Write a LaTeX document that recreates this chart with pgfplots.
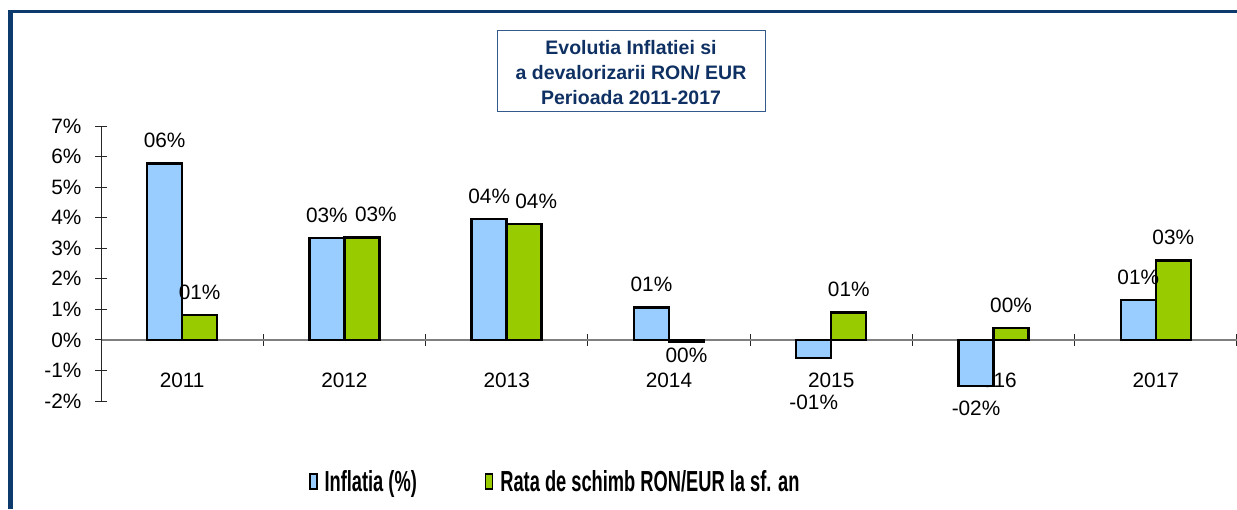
\documentclass[border=0pt]{standalone}
\usepackage{pgfplots}
\pgfplotsset{compat=1.18}
\usepackage{pgfplotstable}
\usepackage{fontspec}
\setmainfont{Liberation Sans}
\usepackage{graphicx}

\definecolor{framecol}{RGB}{12,58,108}
\definecolor{titlecol}{RGB}{14,48,98}
\definecolor{titlebox}{RGB}{50,90,140}
\definecolor{infl}{RGB}{153,204,255}
\definecolor{ron}{RGB}{153,204,0}

\pgfplotstableread{
x y lab dx dy
0 5.77 06 0 11
1 3.33 03 0 11
2 3.96 04 0 11
3 1.06 01 0 11
4 -0.60 -01 0 -56
5 -1.50 -02 0 -35
6 1.30 01 0 11
}\inflt

\pgfplotstableread{
x y lab dx dy
0 0.81 01 0 11
1 3.35 03 14 11
2 3.79 04 12 11
3 -0.06 00 0 -26
4 0.89 01 0 11
5 0.38 00 0 11
6 2.60 03 0 11
}\ront

\begin{document}
\begin{tikzpicture}
\useasboundingbox (0,0) rectangle (1237pt,509pt);
\fill[framecol] (8pt,0pt) rectangle (13.3pt,499pt);
\fill[framecol] (8pt,496pt) rectangle (1237pt,499pt);
\node[draw=titlebox, line width=0.9pt, minimum width=268pt, minimum height=81.7pt,
      align=center, text=titlecol, font=\bfseries\fontsize{19.5}{25}\selectfont]
      at (631pt,438.15pt) {};
\node[align=center, text=titlecol, font=\bfseries\fontsize{19.5}{25}\selectfont]
      at (631pt,436pt) {Evolutia Inflatiei si\\a devalorizarii RON/ EUR\hspace*{16pt}\\Perioada 2011-2017};
\begin{axis}[
  at={(101pt,108pt)}, anchor=south west,
  scale only axis, width=1136pt, height=275pt,
  xmin=-0.5, xmax=6.5, ymin=-2, ymax=7,
  ybar=0pt, bar width=35pt,
  axis x line*=middle, axis y line*=left,
  hide obscured x ticks=false, hide obscured y ticks=false,
  clip=false,
  tick align=center, major tick length=12pt,
  every tick/.style={black!85, line width=1pt},
  x axis line style={black!50, line width=1.5pt},
  y axis line style={black!85, line width=1pt},
  ytick={-2,-1,0,1,2,3,4,5,6,7},
  yticklabels={-2\%,-1\%,0\%,1\%,2\%,3\%,4\%,5\%,6\%,7\%},
  yticklabel style={xshift=-10pt},
  xtick={0.5,1.5,2.5,3.5,4.5,5.5,6.5},
  xticklabels={},
  extra x ticks={0,1,2,3,4,5,6},
  extra x tick labels={2011,2012,2013,2014,2015,2016,2017},
  extra x tick style={major tick length=0pt, xticklabel style={yshift=-30pt}},
  tick label style={font=\fontsize{20.8}{24}\selectfont, text=black},
  point meta=explicit symbolic,
  nodes near coords={\pgfplotspointmeta\%},
  nodes near coords style={font=\fontsize{20.8}{24}\selectfont, text=black, anchor=south},
  legend columns=2,
  legend style={draw=none, fill=none, at={(0.1803,-0.2935)}, anchor=west,
    font=\bfseries\fontsize{29}{31}\selectfont,
    /tikz/every odd column/.append style={column sep=5pt},
    /tikz/every even column/.append style={column sep=66pt}},
]
\addplot[fill=infl, draw=black, line width=2.4pt,
  visualization depends on={\thisrow{dy} \as \dy},
  visualization depends on={\thisrow{dx} \as \dx},
  every node near coord/.append style={yshift=\dy pt, xshift=\dx pt},
  legend image code/.code={\draw[fill=infl, draw=black, line width=1.5pt] (0pt,-7.5pt) rectangle (7pt,7.5pt);}]
  table[x=x, y=y, meta=lab] {\inflt};
\addlegendentry{\scalebox{0.63}[1]{Inflatia (\%)}}
\addplot[fill=ron, draw=black, line width=2.4pt,
  visualization depends on={\thisrow{dy} \as \dy},
  visualization depends on={\thisrow{dx} \as \dx},
  every node near coord/.append style={yshift=\dy pt, xshift=\dx pt},
  legend image code/.code={\draw[fill=ron, draw=black, line width=1.5pt] (0pt,-7.5pt) rectangle (7pt,7.5pt);}]
  table[x=x, y=y, meta=lab] {\ront};
\addlegendentry{\scalebox{0.63}[1]{Rata de schimb RON/EUR la sf. an}}
\end{axis}
\end{tikzpicture}
\end{document}
